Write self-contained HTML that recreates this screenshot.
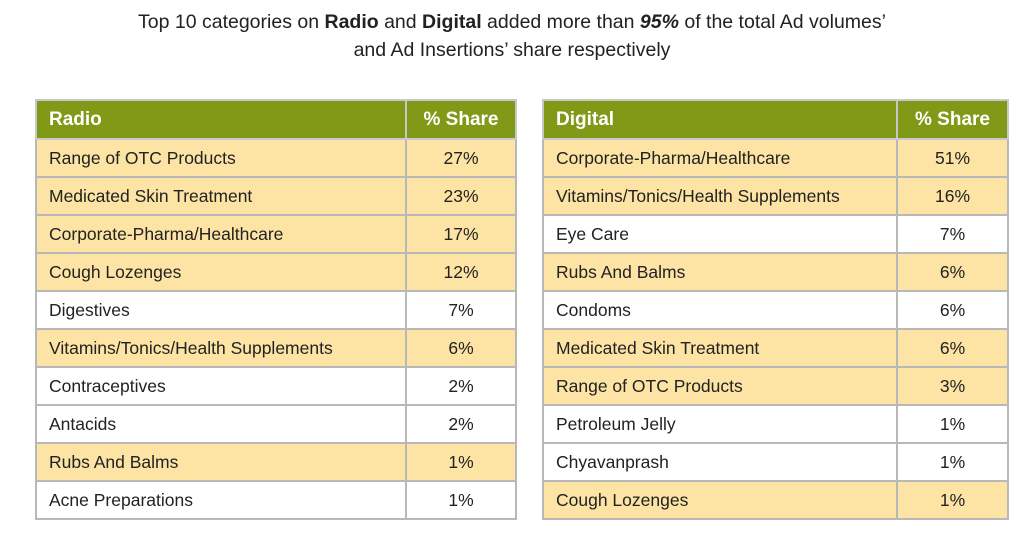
<!DOCTYPE html><html><head><style>
body{margin:0;width:1024px;height:539px;background:#fff;font-family:"Liberation Sans",sans-serif;position:relative;overflow:hidden}
.t{position:absolute;top:8px;left:0;width:1024px;text-align:center;font-size:19.5px;line-height:28px;color:#222}
table{position:absolute;top:99px;border-collapse:collapse;font-size:17.5px;color:#222}
td{border:2px solid #b8b8b8;height:36px;padding:0 0 0 12px;box-sizing:border-box}
td.p{text-align:center;padding:0}
tr.h td{background:#809a17;color:#fff;font-weight:bold;font-size:19px;border-color:#c8c8c8}
tr.y td{background:#fde4a4}
</style></head><body>
<div class="t">Top 10 categories on <b>Radio</b> and <b>Digital</b> added more than <b><i>95%</i></b> of the total Ad volumes’<br>and Ad Insertions’ share respectively</div>
<table style="left:35px;width:482px">
<col style="width:370px"><col>
<tr class="h"><td style="height:39px">Radio</td><td class="p">% Share</td></tr>
<tr class="y"><td style="height:38px">Range of OTC Products</td><td class="p">27%</td></tr>
<tr class="y"><td style="height:38px">Medicated Skin Treatment</td><td class="p">23%</td></tr>
<tr class="y"><td style="height:38px">Corporate-Pharma/Healthcare</td><td class="p">17%</td></tr>
<tr class="y"><td style="height:38px">Cough Lozenges</td><td class="p">12%</td></tr>
<tr><td style="height:38px">Digestives</td><td class="p">7%</td></tr>
<tr class="y"><td style="height:38px">Vitamins/Tonics/Health Supplements</td><td class="p">6%</td></tr>
<tr><td style="height:38px">Contraceptives</td><td class="p">2%</td></tr>
<tr><td style="height:38px">Antacids</td><td class="p">2%</td></tr>
<tr class="y"><td style="height:38px">Rubs And Balms</td><td class="p">1%</td></tr>
<tr><td style="height:38px">Acne Preparations</td><td class="p">1%</td></tr>
</table>
<table style="left:542px;width:467px">
<col style="width:354px"><col>
<tr class="h"><td style="height:39px">Digital</td><td class="p">% Share</td></tr>
<tr class="y"><td style="height:38px">Corporate-Pharma/Healthcare</td><td class="p">51%</td></tr>
<tr class="y"><td style="height:38px">Vitamins/Tonics/Health Supplements</td><td class="p">16%</td></tr>
<tr><td style="height:38px">Eye Care</td><td class="p">7%</td></tr>
<tr class="y"><td style="height:38px">Rubs And Balms</td><td class="p">6%</td></tr>
<tr><td style="height:38px">Condoms</td><td class="p">6%</td></tr>
<tr class="y"><td style="height:38px">Medicated Skin Treatment</td><td class="p">6%</td></tr>
<tr class="y"><td style="height:38px">Range of OTC Products</td><td class="p">3%</td></tr>
<tr><td style="height:38px">Petroleum Jelly</td><td class="p">1%</td></tr>
<tr><td style="height:38px">Chyavanprash</td><td class="p">1%</td></tr>
<tr class="y"><td style="height:38px">Cough Lozenges</td><td class="p">1%</td></tr>
</table>
</body></html>
